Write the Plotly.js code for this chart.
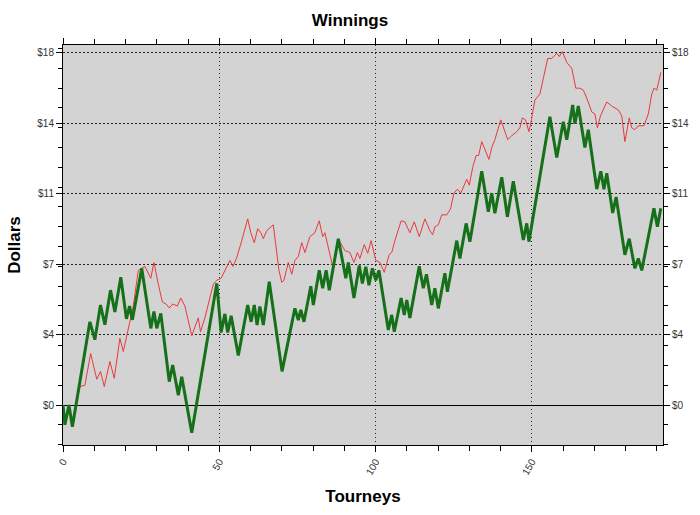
<!DOCTYPE html>
<html>
<head>
<meta charset="utf-8">
<script src="https://cdn.plot.ly/plotly-3.0.1.min.js"></script>
<style>html,body{margin:0;padding:0;background:#fff;}#chart{width:700px;height:515px;}</style>
</head>
<body>
<div id="chart"></div>
<script>
// Green series (turning points): tourney number and dollars
var greenTourney = [0,0.6,1.9,3.0,8.6,10.2,12.0,13.4,15.2,16.6,18.5,20.3,21.3,22.2,25.2,28.1,29.1,30.0,31.3,34.0,35.1,36.9,38.0,41.2,49.2,50.6,51.8,52.7,53.8,56.1,59.1,60.2,61.2,62.1,63.0,64.1,66.0,70.1,74.2,75.3,76.1,77.1,79.3,80.1,82.0,83.1,84.2,85.2,88.1,90.5,91.3,93.1,94.8,95.8,96.9,97.9,99.0,100.1,101.1,104.1,105.2,106.0,108.2,109.2,110.0,111.0,114.0,115.3,116.3,118.0,119.0,120.1,122.2,123.0,126.0,127.0,129.0,130.2,134.0,136.1,137.2,138.2,140.4,142.2,144.1,147.3,148.4,149.1,155.8,158.0,160.1,161.2,163.1,163.8,164.9,167.0,168.1,170.8,172.1,173.1,174.0,175.9,177.0,179.8,181.2,183.0,184.1,185.2,189.1,190.2,191.3];
var greenDollars = [0,-1.0,0.0,-1.1,4.2,3.3,5.05,4.05,5.8,4.7,6.45,4.35,5.0,4.3,6.9,3.87,4.72,3.87,4.63,1.18,2.02,0.5,1.43,-1.4,6.14,3.66,4.6,3.66,4.5,2.5,5.05,4.2,5.05,4.04,4.97,4.04,6.23,1.7,4.88,4.29,4.8,4.2,6.0,5.05,6.8,5.9,6.8,5.8,8.4,6.4,7.2,5.4,7.05,6.14,6.98,6.05,6.9,6.3,6.8,3.79,4.55,3.7,5.4,4.55,5.3,4.4,7.0,5.9,6.6,5.05,5.9,4.88,6.65,5.72,8.3,7.4,9.17,8.25,11.8,9.76,10.7,9.68,11.5,9.5,11.3,8.33,9.17,8.25,14.56,12.5,14.3,13.4,15.15,14.2,15.1,13.0,13.9,10.9,11.8,10.9,11.7,9.7,10.5,7.58,8.4,6.9,7.4,6.8,9.93,9.0,9.93];

// Red series (turning points)
var redTourney = [0,0.6,1.9,3.0,4.05,5.4,7.0,8.85,10.8,12.0,13.2,15.0,16.4,18.2,19.3,21.3,22.5,24.1,26.2,28.1,29.1,30.5,31.8,33.0,34.0,35.1,36.6,37.7,39.0,41.2,43.3,44.0,45.4,48.1,49.2,50.6,51.8,53.4,54.4,55.5,57.2,59.1,60.1,61.2,62.3,63.3,64.1,65.2,67.3,69.1,70.0,70.7,72.1,73.2,74.2,75.3,76.4,77.4,79.0,80.6,82.0,83.1,83.8,85.2,86.3,88.4,90.2,91.8,93.1,94.2,95.0,96.4,97.5,98.6,99.6,100.1,101.4,102.8,104.4,105.2,106.2,108.2,109.4,111.0,112.4,114.0,115.8,117.4,118.3,119.0,120.1,121.2,122.8,124.0,125.1,126.2,127.3,129.2,130.0,131.1,132.2,133.0,134.0,135.1,136.3,137.2,138.2,140.1,141.1,142.3,143.6,145.2,146.2,147.0,148.0,149.1,149.9,151.0,152.6,155.1,156.4,158.0,158.8,159.8,161.2,162.8,164.1,165.4,166.5,167.6,169.2,170.2,171.0,172.0,174.0,175.6,177.7,178.8,179.8,181.2,182.0,183.0,184.1,185.9,187.3,188.4,189.1,190.0,190.6,191.3];
var redDollars = [0,-0.9,-0.1,-0.9,0,0.93,1.0,2.6,1.3,1.7,0.93,2.2,1.35,3.37,2.7,4.15,5.0,6.8,7.0,6.4,7.2,6.1,5.2,5.1,4.9,5.1,5.0,5.4,5.0,3.5,4.4,3.7,4.4,6.1,6.3,6.4,6.8,7.3,7.0,7.4,8.3,9.4,8.7,8.2,8.9,8.7,8.4,8.8,9.1,6.8,6.2,6.3,7.2,6.6,7.3,7.5,8.2,7.7,8.5,8.7,9.3,8.5,8.7,7.8,7.0,8.3,7.8,7.7,7.2,7.7,7.4,8.1,7.66,8.3,7.6,7.3,7.2,6.7,7.6,7.7,8.3,9.3,9.25,8.7,9.25,8.5,9.4,8.8,8.6,9.0,9.1,9.6,9.6,9.9,10.7,10.9,10.7,11.4,11.1,12.0,12.6,12.6,13.3,12.9,12.4,13.0,13.4,14.4,13.9,13.4,13.6,13.8,14.0,14.5,14.4,13.8,14.4,15.4,15.7,17.5,17.5,17.76,17.6,17.85,17.3,17.0,16.0,16.0,15.9,15.5,14.8,14.7,14.0,14.6,15.3,15.1,14.9,14.6,13.3,14.5,14.0,13.9,14.1,14.1,14.7,15.7,16.0,15.9,16.3,16.8];

// Axis ticks
var yTickVals = [0,3.56,7.12,10.68,14.24,17.8];
var yTickText = ['$0','$4','$7','$11','$14','$18'];

var FONT = 'Liberation Sans, Arial, sans-serif';

var traces = [
  {x: redTourney, y: redDollars, type: 'scatter', mode: 'lines',
   line: {color: '#e8393e', width: 1}, hoverinfo: 'skip', showlegend: false},
  {x: greenTourney, y: greenDollars, type: 'scatter', mode: 'lines',
   line: {color: '#16701a', width: 3}, hoverinfo: 'skip', showlegend: false},
  {x: [0], y: [0], yaxis: 'y2', type: 'scatter', mode: 'markers',
   marker: {opacity: 0}, hoverinfo: 'skip', showlegend: false}
];

var yRange = [-2.02, 18.18];
var tickFont = {family: FONT, size: 10, color: '#333'};
var titleFont = {family: FONT, size: 17, color: '#000', weight: 'bold'};

var layout = {
  width: 700, height: 515,
  margin: {l: 63, r: 37, t: 45, b: 70, pad: 0},
  paper_bgcolor: '#ffffff',
  plot_bgcolor: '#d3d3d3',
  showlegend: false,
  title: {text: 'Winnings', font: titleFont, x: 0.5, xref: 'container', xanchor: 'center',
          y: 0.962, yref: 'container', yanchor: 'middle'},
  xaxis: {
    range: [0, 192], tickmode: 'linear', tick0: 0, dtick: 50,
    ticks: 'outside', ticklen: 6, tickcolor: '#000', tickwidth: 1,
    tickangle: -60, tickfont: tickFont,
    showgrid: true, gridcolor: '#222', griddash: '1px,3px', gridwidth: 1,
    zeroline: false, showline: true, linecolor: '#000', linewidth: 1, mirror: 'ticks',
    minor: {ticks: 'outside', tickmode: 'linear', tick0: 0, dtick: 10, ticklen: 5, tickcolor: '#000', showgrid: false},
    title: {text: 'Tourneys', font: titleFont, standoff: 14}
  },
  yaxis: {
    range: yRange, tickmode: 'array', tickvals: yTickVals, ticktext: yTickText,
    ticks: 'outside', ticklen: 6, tickcolor: '#000', tickfont: tickFont,
    showgrid: true, gridcolor: '#222', griddash: '2px,2px', gridwidth: 1,
    zeroline: true, zerolinecolor: '#000', zerolinewidth: 1,
    showline: true, linecolor: '#000', linewidth: 1, mirror: 'ticks',
    minor: {ticks: 'outside', tickmode: 'linear', tick0: 0, dtick: 1, ticklen: 4, tickcolor: '#000', showgrid: false},
    title: {text: 'Dollars', font: titleFont, standoff: 12}
  },
  yaxis2: {
    overlaying: 'y', side: 'right', anchor: 'x',
    range: yRange, tickmode: 'array', tickvals: yTickVals, ticktext: yTickText,
    ticks: 'outside', ticklen: 6, tickcolor: '#000', tickfont: tickFont,
    showgrid: false, zeroline: false, showline: false
  }
};

Plotly.newPlot('chart', traces, layout, {staticPlot: true, displayModeBar: false});
</script>
</body>
</html>
